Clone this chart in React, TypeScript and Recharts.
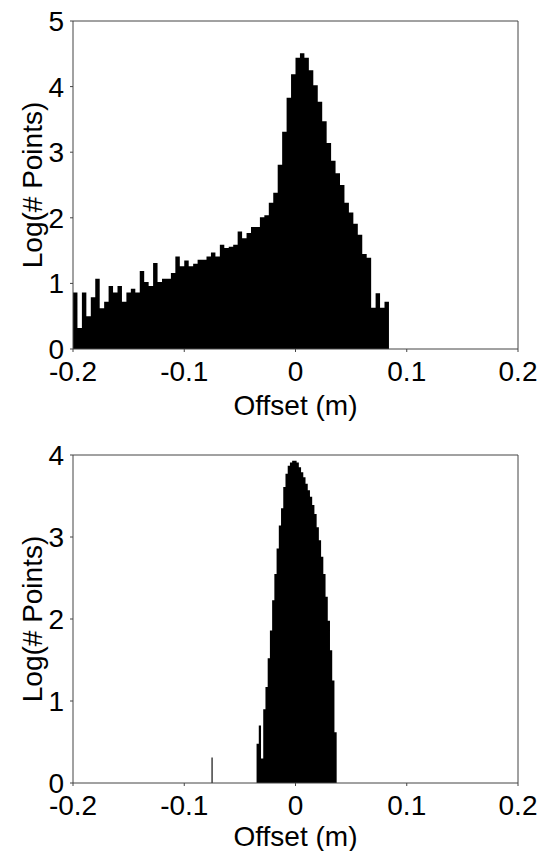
import { ComposedChart, Area, XAxis, YAxis } from 'recharts';

const xTicks = [-0.2, -0.1, 0, 0.1, 0.2];
const topYTicks = [0, 1, 2, 3, 4, 5];
const bottomYTicks = [0, 1, 2, 3, 4];

// upper panel: 0.004 m bins from -0.2 m
const topBinStart = -0.2;
const topBinWidth = 0.004;
const topCounts = [
  0.86, 0.32, 0.86, 0.5, 0.79, 1.07, 0.62, 0.72, 0.96, 0.86,
  0.96, 0.72, 0.86, 0.92, 0.86, 1.19, 1.02, 0.96, 1.31, 1.02,
  1.07, 1.07, 1.16, 1.41, 1.26, 1.35, 1.26, 1.3, 1.36, 1.36,
  1.41, 1.47, 1.41, 1.59, 1.54, 1.56, 1.59, 1.79, 1.69, 1.77,
  1.86, 1.86, 2.01, 2.04, 2.23, 2.38, 2.81, 3.31, 3.83, 4.19,
  4.44, 4.51, 4.44, 4.25, 4.02, 3.77, 3.47, 3.14, 2.87, 2.68,
  2.5, 2.23, 2.08, 1.91, 1.74, 1.45, 1.39, 0.63, 0.85, 0.63,
  0.72,
];

// lower panel: 0.002 m bins from -0.035 m
const bottomBinStart = -0.035;
const bottomBinWidth = 0.002;
const bottomCounts = [
  0.48, 0.7, 0.3, 0.9, 1.17, 1.52, 1.86, 2.23, 2.55, 2.86,
  3.14, 3.35, 3.61, 3.77, 3.87, 3.91, 3.93, 3.93, 3.91, 3.85,
  3.79, 3.73, 3.65, 3.57, 3.49, 3.39, 3.28, 3.12, 2.96, 2.76,
  2.55, 2.27, 1.98, 1.62, 1.25, 0.62,
];
// single stray bin near -0.075 m
const outlierEdges = [-0.0755, -0.0745];
const outlierCount = 0.31;

type Pt = { x: number; v: number };

function toSteps(start: number, width: number, counts: number[]): Pt[] {
  const pts = counts.map((v, i) => ({ x: +(start + i * width).toFixed(4), v }));
  pts.push({ x: +(start + counts.length * width).toFixed(4), v: 0 });
  return pts;
}

const topData: Pt[] = [...toSteps(topBinStart, topBinWidth, topCounts), { x: 0.2, v: 0 }];
const bottomData: Pt[] = [
  { x: -0.2, v: 0 },
  { x: outlierEdges[0], v: outlierCount },
  { x: outlierEdges[1], v: 0 },
  ...toSteps(bottomBinStart, bottomBinWidth, bottomCounts),
  { x: 0.2, v: 0 },
];

const AXIS = '#444';
const FS = 28;

interface PanelProps {
  data: Pt[];
  yMax: number;
  yTicks: number[];
  height: number;
  plotTop: number;
  plotBottom: number;
  labelOffset: number;
}

function Panel({ data, yMax, yTicks, height, plotTop, plotBottom, labelOffset }: PanelProps) {
  return (
    <ComposedChart width={545} height={height} data={data} margin={{ top: 0, right: 0, bottom: 0, left: 0 }}>
      <XAxis
        xAxisId="b"
        dataKey="x"
        type="number"
        domain={[-0.2, 0.2]}
        ticks={xTicks}
        allowDataOverflow
        height={height - plotBottom}
        tickSize={3}
        tickMargin={9}
        stroke={AXIS}
        tick={{ fill: '#000', fontSize: FS }}
        label={{ value: 'Offset (m)', position: 'insideBottom', offset: labelOffset, fill: '#000', fontSize: FS }}
      />
      <XAxis
        xAxisId="t"
        orientation="top"
        dataKey="x"
        type="number"
        domain={[-0.2, 0.2]}
        ticks={xTicks}
        allowDataOverflow
        height={plotTop}
        tickSize={3}
        tick={false}
        stroke={AXIS}
      />
      <YAxis
        yAxisId="l"
        type="number"
        domain={[0, yMax]}
        ticks={yTicks}
        allowDataOverflow
        width={73}
        tickSize={3}
        tickMargin={6}
        stroke={AXIS}
        tick={{ fill: '#000', fontSize: FS }}
        label={{
          value: 'Log(# Points)',
          angle: -90,
          position: 'insideLeft',
          offset: 32,
          fill: '#000',
          fontSize: FS,
          style: { textAnchor: 'middle' },
        }}
      />
      <YAxis
        yAxisId="r"
        orientation="right"
        type="number"
        domain={[0, yMax]}
        ticks={yTicks}
        allowDataOverflow
        width={27}
        tickSize={3}
        tick={false}
        stroke={AXIS}
      />
      <Area
        xAxisId="b"
        yAxisId="l"
        type="stepAfter"
        dataKey="v"
        fill="#000"
        fillOpacity={1}
        stroke="none"
        dot={false}
        activeDot={false}
        isAnimationActive={false}
      />
    </ComposedChart>
  );
}

export default function App() {
  return (
    <div
      style={{
        position: 'absolute',
        left: 0,
        top: 0,
        width: 545,
        height: 851,
        background: '#fff',
        fontFamily: 'Arial, "Liberation Sans", sans-serif',
      }}
    >
      <Panel data={topData} yMax={5} yTicks={topYTicks} height={430} plotTop={21} plotBottom={349} labelOffset={15} />
      <Panel data={bottomData} yMax={4} yTicks={bottomYTicks} height={421} plotTop={25} plotBottom={353} labelOffset={5} />
    </div>
  );
}
